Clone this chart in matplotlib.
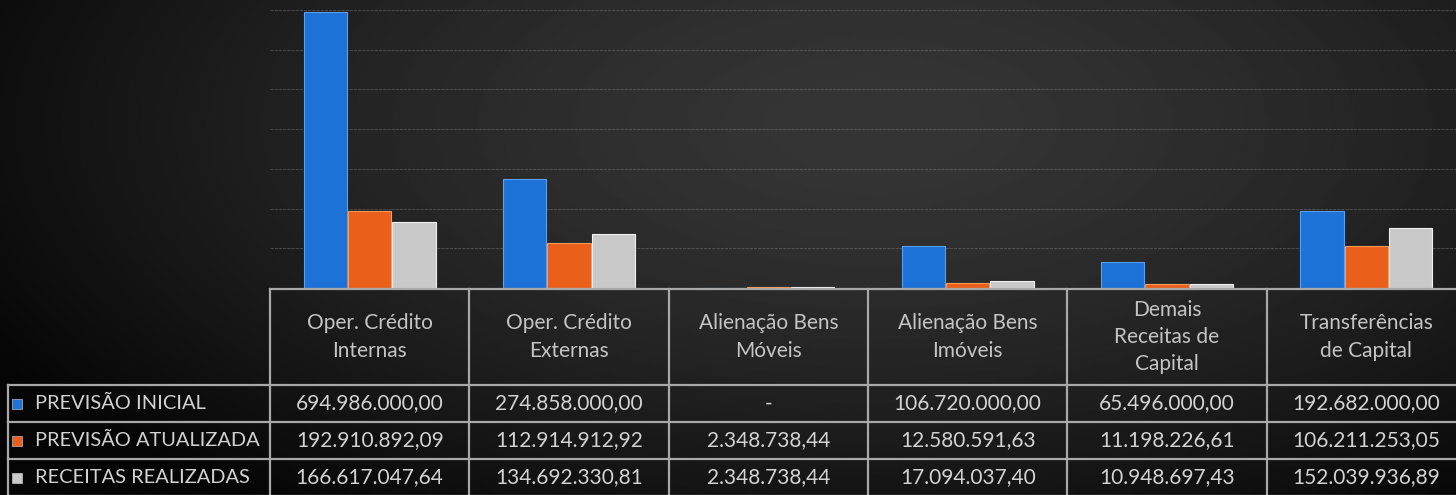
import numpy as np
import matplotlib.pyplot as plt
from matplotlib.colors import LinearSegmentedColormap

plt.rcParams['font.family'] = ['Lato', 'DejaVu Sans']

# Data
categories = ['Oper. Crédito\nInternas', 'Oper. Crédito\nExternas', 'Alienação Bens\nMóveis',
              'Alienação Bens\nImóveis', 'Demais\nReceitas de\nCapital', 'Transferências\nde Capital']
series_names = ['PREVISÃO INICIAL', 'PREVISÃO ATUALIZADA', 'RECEITAS REALIZADAS']
previsao_inicial = [694986000.00, 274858000.00, 0.0, 106720000.00, 65496000.00, 192682000.00]
previsao_atualizada = [192910892.09, 112914912.92, 2348738.44, 12580591.63, 11198226.61, 106211253.05]
receitas_realizadas = [166617047.64, 134692330.81, 2348738.44, 17094037.40, 10948697.43, 152039936.89]
series = [previsao_inicial, previsao_atualizada, receitas_realizadas]
colors = ['#1c72d6', '#ea5f1a', '#c9c9c9']
edges = ['#5aa0ee', '#f79a5a', '#f0f0f0']


def fmt(v):
    if v == 0:
        return '-'
    s = f'{v:,.2f}'
    return s.replace(',', 'X').replace('.', ',').replace('X', '.')


W, H = 1456, 495
fig = plt.figure(figsize=(W / 100, H / 100), dpi=100)

# dark vignette background
bg = fig.add_axes([0, 0, 1, 1], zorder=-10)
yy, xx = np.mgrid[0:1:200j, 0:1:600j]
d = np.sqrt(((xx - 0.6) / 0.65) ** 2 + ((yy - 0.25) / 0.9) ** 2)
shade = np.clip(0.21 - 0.17 * d ** 1.5, 0.02, 0.21)
cmap = LinearSegmentedColormap.from_list('g', ['#000000', '#ffffff'])
bg.imshow(shade, cmap=cmap, vmin=0, vmax=1, aspect='auto', extent=[0, 1, 1, 0])
bg.axis('off')

# bar area
px_left, px_right, px_base = 270, 1466, 288
ax = fig.add_axes([px_left / W, 1 - px_base / H, (px_right - px_left) / W, px_base / H])
ax.patch.set_alpha(0)
n = len(categories)
x = np.arange(n)
bw = 0.217
for i, (vals, c, e) in enumerate(zip(series, colors, edges)):
    ax.bar(x + (i - 1) * (bw + 0.005), vals, width=bw, color=c, edgecolor=e, linewidth=0.8, zorder=3)
ax.set_xlim(-0.5, n - 0.5)
ax.set_ylim(0, 725e6)
ax.set_yticks(np.arange(0, 725e6, 100e6))
ax.yaxis.grid(True, color='#8a8a8a', linewidth=0.6, alpha=0.45, linestyle=(0, (4, 1)))
ax.tick_params(left=False, bottom=False, labelleft=False, labelbottom=False)
for s in ax.spines.values():
    s.set_visible(False)

# data table
leg_left = 8
colw = (px_right - px_left) / n
tx = fig.add_axes([leg_left / W, 0, (px_right - leg_left) / W, (H - px_base) / H])
tx.patch.set_alpha(0)
x0 = -0.5 - (px_left - leg_left) / colw
tx.set_xlim(x0, n - 0.5)
tx.set_ylim(H, px_base)
tx.axis('off')
lc = '#a8a8a8'
head_bottom = 385
row_h = 37
row_tops = [head_bottom + k * row_h for k in range(len(series) + 1)]
# horizontal lines
tx.plot([-0.5, n - 0.5], [px_base + 1, px_base + 1], color=lc, lw=1.6, clip_on=False)
for yl in row_tops:
    tx.plot([x0, n - 0.5], [yl, yl], color=lc, lw=1.6, clip_on=False)
# vertical lines
for k in range(n + 1):
    tx.plot([k - 0.5, k - 0.5], [px_base + 1, H + 5], color=lc, lw=1.6, clip_on=False)
tx.plot([x0, x0], [head_bottom, H + 5], color=lc, lw=1.6, clip_on=False)

fs = 15
for k, cat in enumerate(categories):
    tx.text(k, 337, cat, ha='center', va='center', color='#c4c4c4', fontsize=fs,
            linespacing=1.45)
for r, (name, vals, c) in enumerate(zip(series_names, series, colors)):
    yc = row_tops[r] + row_h / 2
    tx.scatter([x0 + 0.045], [yc], marker='s', s=45, color=c, edgecolor='#dddddd', linewidth=0.4, clip_on=False)
    tx.text(x0 + 0.135, yc, name, ha='left', va='center', color='#d2d2d2', fontsize=14.4)
    for k, v in enumerate(vals):
        tx.text(k, yc, fmt(v), ha='center', va='center', color='#d2d2d2', fontsize=fs)

fig.savefig('out.png', dpi=100, facecolor='black')
